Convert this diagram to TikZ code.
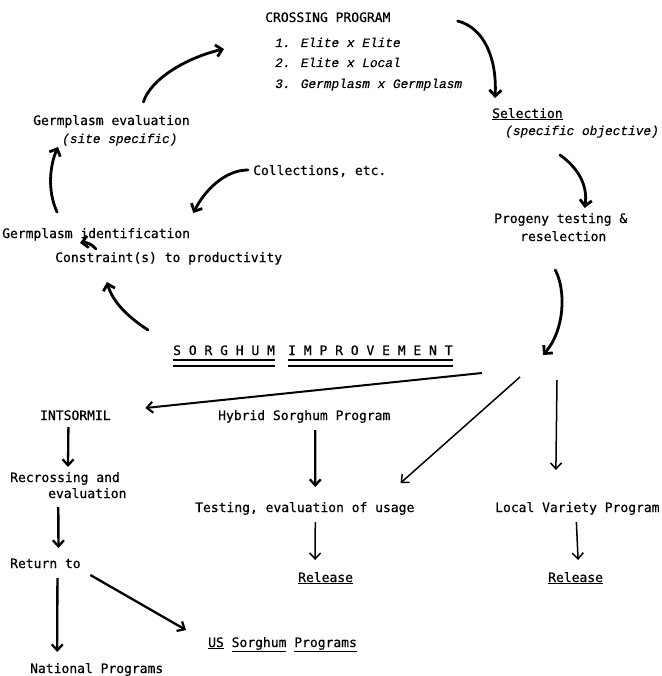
\documentclass[tikz,border=0pt]{standalone}
\usepackage{fontspec}
\newfontfamily\gothic[FakeBold=0.6]{DejaVu Sans Mono}
\newfontfamily\itype[FakeBold=0.3]{Liberation Mono}
\usetikzlibrary{arrows.meta}
\tikzset{
	txt/.style={font=\gothic\fontsize{13}{15}\selectfont, inner sep=0pt, anchor=base west},
	itxt/.style={font=\itype\itshape\fontsize{12.8}{15}\selectfont, inner sep=0pt, anchor=base west},
	swoop/.style={line width=2.8pt, line cap=round, -{Straight Barb[length=6pt,width=12pt]}},
	down/.style={line width=2.3pt, -{Straight Barb[length=6pt,width=11pt]}},
	slim/.style={line width=1.5pt, -{Straight Barb[length=6pt,width=11pt]}},
	dunder/.style={line width=1.1pt}
}

\begin{document}
\begin{tikzpicture}[x=1pt,y=-1pt]
			%%%%% START %%%%%
			\useasboundingbox[fill=white] (0,0) rectangle (661,676);
			
			% crossing block
			\node[txt] (cross) at (265,22) {CROSSING PROGRAM};
			\node[itxt] (c1) at (275,47) {1. Elite x Elite};
			\node[itxt] (c2) at (275,67) {2. Elite x Local};
			\node[itxt] (c3) at (275,88) {3. Germplasm x Germplasm};
			
			\node[txt] (sel) at (492,118) {\underline{Selection}};
			\node[itxt] (selobj) at (505,135) {(specific objective)};
			\node[txt] (prog) at (494,223) {Progeny testing \&};
			\node[txt] (resel) at (520,241) {reselection};
			
			\node[txt] (germev) at (33,125) {Germplasm evaluation};
			\node[itxt] (site) at (62,143) {(site specific)};
			\node[txt] (coll) at (253,175) {Collections, etc.};
			\node[txt] (germid) at (2,238) {Germplasm identification};
			\node[txt] (constr) at (55,262) {Constraint(s) to productivity};
			
			\node[txt] (sorg) at (173,355) {S O R G H U M};
			\node[txt] (impr) at (288,355) {I M P R O V E M E N T};
			\foreach \w in {sorg,impr} {
				\draw[dunder] ([shift={(0,5)}]\w.base west) -- ([shift={(0,5)}]\w.base east);
				\draw[dunder] ([shift={(0,11)}]\w.base west) -- ([shift={(0,11)}]\w.base east);
			}
			\coordinate (hub) at (543,355);
			
			% lower part
			\node[txt] (intsor) at (40,420) {INTSORMIL};
			\node[txt] (hybrid) at (218,420) {Hybrid Sorghum Program};
			\node[txt] (recr) at (10,482) {Recrossing and};
			\node[txt] (recr2) at (48,498) {evaluation};
			\node[txt] (test) at (195,512) {Testing, evaluation of usage};
			\node[txt] (local) at (495,512) {Local Variety Program};
			\node[txt] (ret) at (10,568) {Return to};
			\node[txt] (rel1) at (298,582) {\underline{Release}};
			\node[txt] (rel2) at (548,582) {\underline{Release}};
			\node[txt] (usp) at (208,647) {\underline{US} \underline{Sorghum} \underline{Programs}};
			\node[txt] (natp) at (30,673) {National Programs};
			
			% the cycle
			\draw[swoop] ([shift={(32,-23)}]germev.base) .. controls (150,80) and (185,58) .. ([shift={(-41,27)}]cross.base west);
			\draw[swoop] ([shift={(67,-1)}]cross.base east) .. controls (485,28) and (497,60) .. ([shift={(3,-20)}]sel.base west);
			\draw[swoop] ([shift={(-22,20)}]selobj.base) .. controls (578,168) and (588,185) .. ([shift={(24,-15)}]prog.base);
			\draw[swoop] ([shift={(-8,29)}]resel.base) .. controls (566,290) and (565,330) .. (hub);
			\draw[swoop] ([shift={(-25,-25)}]sorg.base west) .. controls (125,315) and (112,300) .. ([shift={(52,20)}]constr.base west);
			\draw[swoop] ([shift={(41,-13)}]constr.base west) .. controls (92,244) and (86,242) .. ([shift={(78,5)}]germid.base west);
			\draw[swoop] ([shift={(-5,-5)}]coll.base west) .. controls (225,170) and (205,190) .. ([shift={(3,-25)}]germid.base east);
			\draw[swoop] ([shift={(55,-26)}]germid.base west) .. controls (47,190) and (50,165) .. ([shift={(-4,4)}]site.base west);
			
			% fan out from the hub
			\draw[slim, line width=2pt] ([shift={(-61,18)}]hub) -- ([shift={(34.5,-12)}]intsor.base east);
			\draw[slim] ([shift={(-23,22)}]hub) -- ([shift={(-14,-29)}]test.base east);
			\draw[slim] ([shift={(14,25)}]hub) -- ([shift={(-21.5,-42)}]local.base);
			
			\draw[down] ([shift={(-7,7)}]intsor.base) -- ([shift={(3,-15)}]recr.base);
			\draw[down] ([shift={(11,10)}]hybrid.base) -- ([shift={(10.5,-25)}]test.base);
			\draw[down] ([shift={(-29,9)}]recr2.base) -- ([shift={(13,-20)}]ret.base);
			\draw[slim] ([shift={(10.5,10)}]test.base) -- ([shift={(-10.5,-22)}]rel1.base);
			\draw[slim] ([shift={(-1,10)}]local.base) -- ([shift={(2.5,-22)}]rel2.base);
			\draw[down] ([shift={(12,10)}]ret.base) -- ([shift={(-39.5,-21)}]natp.base);
			\draw[down] ([shift={(9.5,7)}]ret.base east) -- ([shift={(-22,-17)}]usp.base west);
			
			%%%%% END %%%%%
\end{tikzpicture}
\end{document}
